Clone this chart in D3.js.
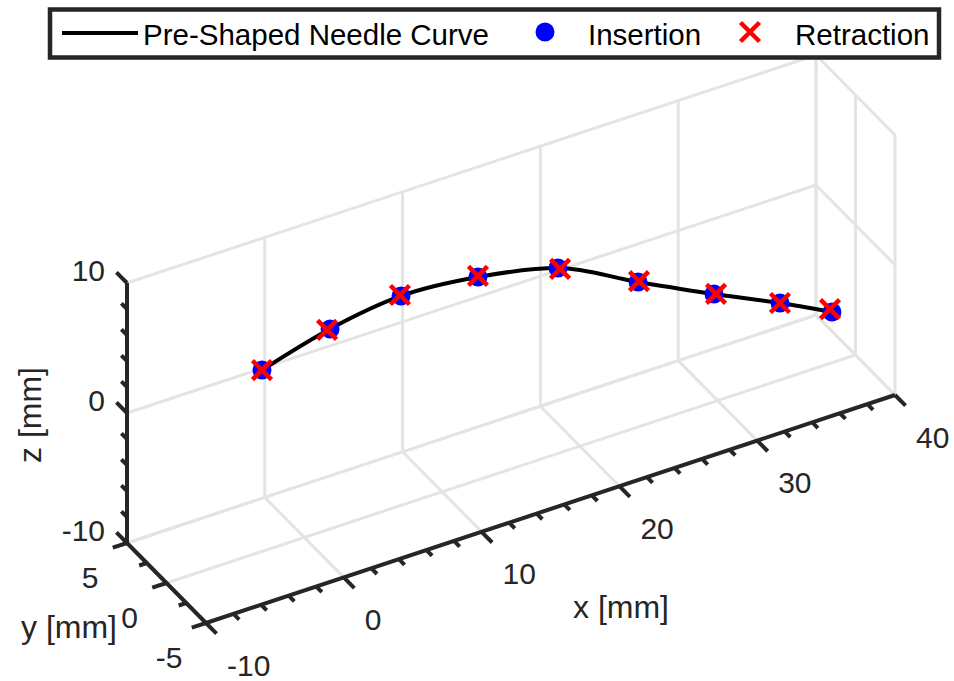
<!DOCTYPE html>
<html>
<head>
<meta charset="utf-8">
<script src="https://cdn.jsdelivr.net/npm/d3@7"></script>
<style>
  body { margin: 0; background: #fff; }
  text { font-family: "Liberation Sans", Arial, Helvetica, sans-serif; }
</style>
</head>
<body>
<script>
var width = 954,
    height = 681;

// axis limits and ticks
var xDomain = [-10, 40], yDomain = [-5, 5], zDomain = [-10, 10];
var xTicks = [-10, 0, 10, 20, 30, 40];
var yTicks = [-5, 0, 5];
var zTicks = [-10, 0, 10];
var xMinorStep = 2, yMinorStep = 2.5, zMinorStep = 2;

// pre-shaped needle curve (mm)
var curveX = [-3.07, 1.87, 7.02, 12.6, 18.41, 24.22, 29.73, 34.52, 38.29];
var curveY = [0, 0, 0, 0, 0, 0, 0, 0, 0];
var curveZ = [3.95, 5.38, 6.11, 5.61, 4.26, 1.15, -1.71, -4.08, -6.09];

// insertion points
var insX = [-3.07, 1.87, 7.02, 12.6, 18.41, 24.22, 29.73, 34.52, 38.29];
var insY = [0, 0, 0, 0, 0, 0, 0, 0, 0];
var insZ = [3.95, 5.38, 6.11, 5.61, 4.26, 1.15, -1.71, -4.08, -6.09];

// retraction points
var retX = [-3.07, 1.65, 6.94, 12.6, 18.56, 24.29, 29.88, 34.52, 38.15];
var retY = [0, 0, 0, 0, 0, 0, 0, 0, 0];
var retZ = [3.95, 5.38, 6.21, 5.7, 4.14, 1.2, -1.75, -4.08, -5.82];

var legendLabels = ["Pre-Shaped Needle Curve", "Insertion", "Retraction"];

var axisColor = "#262626", gridColor = "#e4e4e4";

var svg = d3.select("body").append("svg")
    .attr("width", width)
    .attr("height", height);

// orthographic projection of the plot box
var sx = d3.scaleLinear().domain(xDomain).range([0, 1]),
    sy = d3.scaleLinear().domain(yDomain).range([0, 1]),
    sz = d3.scaleLinear().domain(zDomain).range([0, 1]);
var origin = [206, 623],   // (-10, -5, -10)
    ux = [689, -228],
    uy = [-79, -80],
    uz = [0, -260];

function proj(x, y, z) {
  var a = sx(x), b = sy(y), c = sz(z);
  return [origin[0] + a * ux[0] + b * uy[0] + c * uz[0],
          origin[1] + a * ux[1] + b * uy[1] + c * uz[1]];
}

function seg(g, p, q, color, w) {
  var a = proj(p[0], p[1], p[2]), b = proj(q[0], q[1], q[2]);
  g.append("line")
    .attr("x1", a[0]).attr("y1", a[1])
    .attr("x2", b[0]).attr("y2", b[1])
    .attr("stroke", color)
    .attr("stroke-width", w);
}

// grid on the three back planes
var grid = svg.append("g").attr("class", "grid");
xTicks.forEach(function (x) {
  seg(grid, [x, 5, -10], [x, 5, 10], gridColor, 3);
  seg(grid, [x, -5, -10], [x, 5, -10], gridColor, 3);
});
zTicks.forEach(function (z) {
  seg(grid, [-10, 5, z], [40, 5, z], gridColor, 3);
  seg(grid, [40, -5, z], [40, 5, z], gridColor, 3);
});
yTicks.forEach(function (y) {
  seg(grid, [-10, y, -10], [40, y, -10], gridColor, 3);
  seg(grid, [40, y, -10], [40, y, 10], gridColor, 3);
});

// axes
var axes = svg.append("g").attr("class", "axes");
seg(axes, [-10, -5, -10], [40, -5, -10], axisColor, 4);
seg(axes, [-10, -5, -10], [-10, 5, -10], axisColor, 4);
seg(axes, [-10, 5, -10], [-10, 5, 10], axisColor, 4);

function norm(v) {
  var l = Math.sqrt(v[0] * v[0] + v[1] * v[1]);
  return [v[0] / l, v[1] / l];
}
var xTickDir = norm([-uy[0], -uy[1]]),
    yTickDir = norm([-ux[0], -ux[1]]),
    zTickDir = norm([uy[0], uy[1]]);

function tick(p, dir, len) {
  axes.append("line")
    .attr("x1", p[0]).attr("y1", p[1])
    .attr("x2", p[0] + dir[0] * len).attr("y2", p[1] + dir[1] * len)
    .attr("stroke", axisColor)
    .attr("stroke-width", 4);
}

d3.range(xDomain[0], xDomain[1] + 0.01, xMinorStep).forEach(function (v) {
  tick(proj(v, -5, -10), xTickDir, xTicks.indexOf(v) >= 0 ? 15 : 8);
});
d3.range(yDomain[0], yDomain[1] + 0.01, yMinorStep).forEach(function (v) {
  tick(proj(-10, v, -10), yTickDir, yTicks.indexOf(v) >= 0 ? 15 : 8);
});
d3.range(zDomain[0], zDomain[1] + 0.01, zMinorStep).forEach(function (v) {
  tick(proj(-10, 5, v), zTickDir, zTicks.indexOf(v) >= 0 ? 15 : 8);
});

// tick labels
var labels = svg.append("g")
    .attr("fill", axisColor)
    .attr("font-size", 30);

labels.selectAll(".xl").data(xTicks).enter().append("text")
    .attr("x", function (d) { return proj(d, -5, -10)[0] + 21; })
    .attr("y", function (d) { return proj(d, -5, -10)[1] + 42; })
    .attr("dy", "0.35em")
    .attr("text-anchor", "start")
    .text(function (d) { return d; });

labels.selectAll(".yl").data(yTicks).enter().append("text")
    .attr("x", function (d) { return proj(-10, d, -10)[0] - 37; })
    .attr("y", function (d) { return proj(-10, d, -10)[1] + 34; })
    .attr("dy", "0.35em")
    .attr("text-anchor", "middle")
    .text(function (d) { return d; });

labels.selectAll(".zl").data(zTicks).enter().append("text")
    .attr("x", function (d) { return proj(-10, 5, d)[0] - 22; })
    .attr("y", function (d) { return proj(-10, 5, d)[1] - 13; })
    .attr("dy", "0.35em")
    .attr("text-anchor", "end")
    .text(function (d) { return d; });

// axis titles
var titles = svg.append("g").attr("fill", axisColor).attr("font-size", 32);
titles.append("text").attr("x", 621).attr("y", 618)
    .attr("text-anchor", "middle").text("x [mm]");
titles.append("text").attr("x", 69).attr("y", 638)
    .attr("text-anchor", "middle").text("y [mm]");
titles.append("text")
    .attr("transform", "translate(41,415) rotate(-90)")
    .attr("text-anchor", "middle").text("z [mm]");

// needle curve
var line3 = d3.line()
    .x(function (i) { return proj(curveX[i], curveY[i], curveZ[i])[0]; })
    .y(function (i) { return proj(curveX[i], curveY[i], curveZ[i])[1]; })
    .curve(d3.curveMonotoneX);

svg.append("path")
    .attr("d", line3(d3.range(curveX.length)))
    .attr("fill", "none")
    .attr("stroke", "#000")
    .attr("stroke-width", 4)
    .attr("stroke-linejoin", "round");

// insertion markers
svg.append("g").selectAll("circle")
    .data(d3.range(insX.length))
    .enter().append("circle")
      .attr("cx", function (i) { return proj(insX[i], insY[i], insZ[i])[0]; })
      .attr("cy", function (i) { return proj(insX[i], insY[i], insZ[i])[1]; })
      .attr("r", 9.5)
      .attr("fill", "#0000ff");

// retraction markers
function cross(g, cx, cy, s) {
  g.append("path")
    .attr("d", "M" + (cx - s) + "," + (cy - s) + "L" + (cx + s) + "," + (cy + s) +
               "M" + (cx - s) + "," + (cy + s) + "L" + (cx + s) + "," + (cy - s))
    .attr("stroke", "#ff0000")
    .attr("stroke-width", 4.5)
    .attr("fill", "none");
}
var retG = svg.append("g");
d3.range(retX.length).forEach(function (i) {
  var p = proj(retX[i], retY[i], retZ[i]);
  cross(retG, p[0], p[1], 9.5);
});

// legend
var legend = svg.append("g").attr("font-size", 29.5).attr("fill", "#000");
legend.append("rect")
    .attr("x", 50).attr("y", 9.5)
    .attr("width", 889).attr("height", 48)
    .attr("fill", "#fff")
    .attr("stroke", axisColor)
    .attr("stroke-width", 4.5);
legend.append("line")
    .attr("x1", 62).attr("x2", 138).attr("y1", 33).attr("y2", 33)
    .attr("stroke", "#000").attr("stroke-width", 4);
legend.append("text").attr("x", 143).attr("y", 45).text(legendLabels[0]);
legend.append("circle").attr("cx", 545).attr("cy", 32).attr("r", 9.5).attr("fill", "#0000ff");
legend.append("text").attr("x", 588).attr("y", 45).text(legendLabels[1]);
cross(legend, 750, 32, 9.5);
legend.append("text").attr("x", 795).attr("y", 45).text(legendLabels[2]);
</script>
</body>
</html>
